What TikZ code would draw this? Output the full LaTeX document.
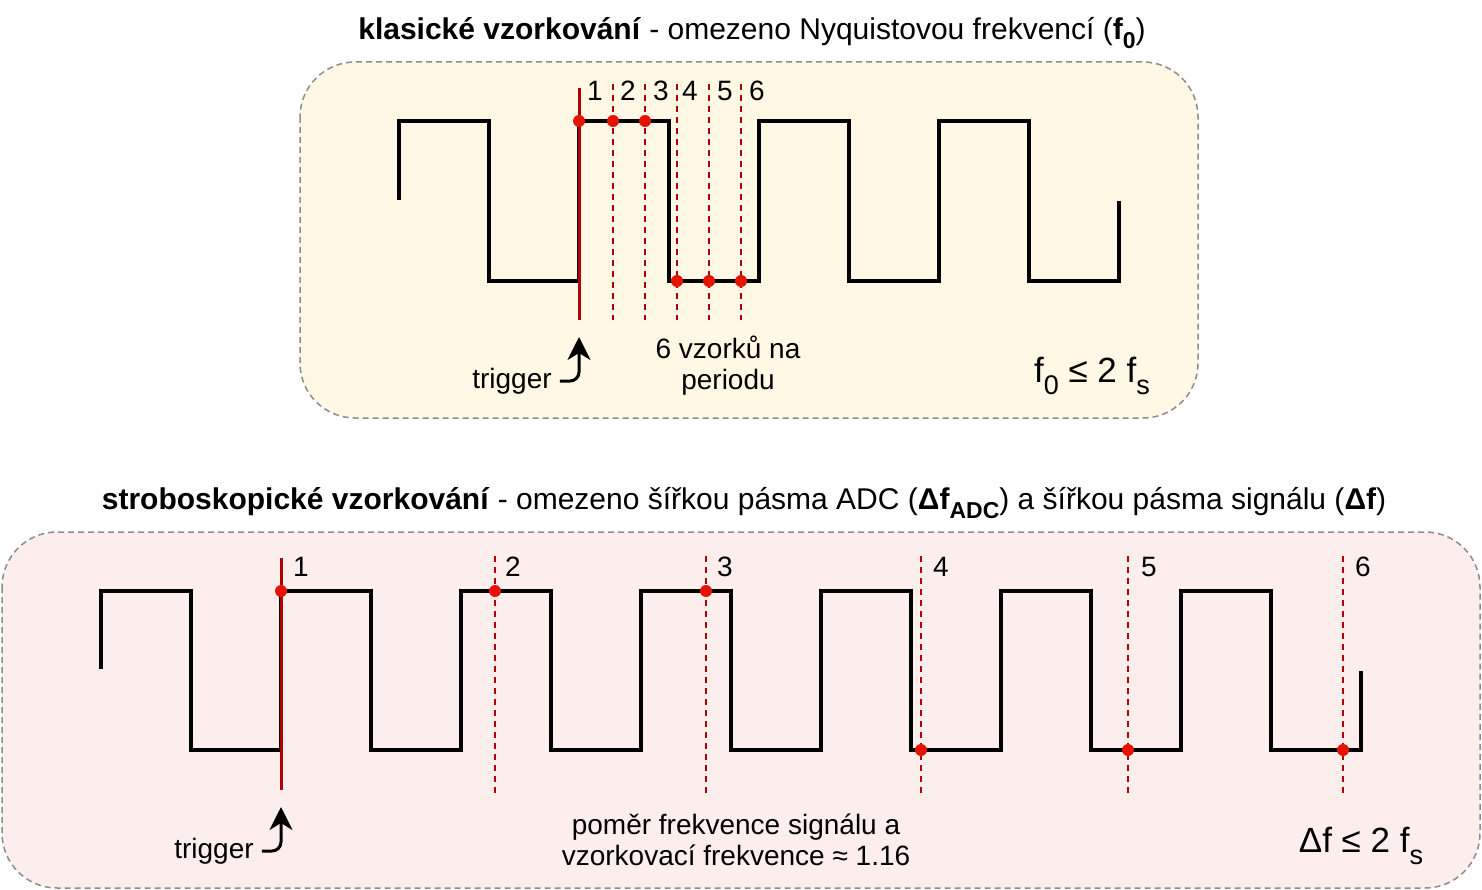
\documentclass[tikz,border=0pt]{standalone}
\usepackage{fontspec}
\setmainfont{Liberation Sans}
\usetikzlibrary{arrows.meta}
\definecolor{topfill}{HTML}{FFF8E5}
\definecolor{botfill}{HTML}{FDEEEE}
\definecolor{boxline}{HTML}{8C8C8C}
\definecolor{trigred}{HTML}{B20000}
\definecolor{dotred}{HTML}{E51400}
\newcommand{\mysub}[2]{\raisebox{-0.32em}{\fontsize{#1}{#1}\selectfont #2}}
\tikzset{
  panel/.style={draw=boxline, line width=1.5pt, dash pattern=on 6pt off 4pt, rounded corners=55pt},
  wave/.style={draw=black, line width=3.2pt, line join=miter},
  trigline/.style={draw=trigred, line width=3pt},
  samp/.style={draw=trigred, line width=1.5pt, dash pattern=on 6pt off 5pt},
  sdot/.style={circle, fill=dotred, inner sep=0pt, minimum size=12pt},
  lbl/.style={font=\fontsize{28}{31}\selectfont, inner sep=0pt, align=center},
  ttl/.style={font=\fontsize{30}{34}\selectfont, inner sep=0pt},
  big/.style={font=\fontsize{35}{40}\selectfont, inner sep=0pt},
  trigarrow/.style={draw=black, line width=3pt, rounded corners=9pt, -{Stealth[length=23pt,width=23pt,inset=7pt]}, shorten <=8pt}
}
\begin{document}
\begin{tikzpicture}[x=1pt,y=-1pt]
\useasboundingbox (0,0) rectangle (1482,890);
% panels
\path[panel, fill=topfill] (300,62) rectangle (1198,418);
\path[panel, fill=botfill] (2,532) rectangle (1480,888);
% titles
\node[ttl] (title1) at (752,33) {\textbf{klasické vzorkování} - omezeno Nyquistovou frekvencí (\textbf{f}\mysub{23}{\textbf{0}})};
\node[ttl] (title2) at (744,503) {\textbf{stroboskopické vzorkování} - omezeno šířkou pásma ADC (\textbf{Δf}\mysub{23}{\textbf{ADC}}) a šířkou pásma signálu (\textbf{Δf})};
% top waveform
\draw[wave] (399,200) -- (399,121) -- (489,121) -- (489,281) -- (579,281) -- (579,121) -- (669,121) -- (669,281) -- (759,281) -- (759,121) -- (849,121) -- (849,281) -- (939,281) -- (939,121) -- (1029,121) -- (1029,281) -- (1119,281) -- (1119,201);
\foreach \x in {613,645,677,709,741} \draw[samp] (\x,84) -- (\x,320);
\draw[trigline] (579,88) -- (579,320);
\foreach \x/\y/\n in {579/121/a1,613/121/a2,645/121/a3,677/281/a4,709/281/a5,741/281/a6}
  \node[sdot] (\n) at (\x,\y) {};
\foreach \x/\t/\n in {595/1/la1,628/2/la2,661/3/la3,690/4/la4,725/5/la5,757/6/la6}
  \node[lbl] (\n) at (\x,91) {\t};
\node[lbl] (trig1) at (512,381) {trigger};
\coordinate (tip1) at (579,337);
\draw[trigarrow] (trig1.east) -| (tip1);
\node[lbl] (per) at (728,366) {6 vzorků na\\periodu};
\node[big] (cond1) at (1092,376) {f\mysub{27}{0} ≤ 2 f\mysub{27}{s}};
% bottom waveform
\draw[wave] (101,669) -- (101,591) -- (191,591) -- (191,750) -- (281,750) -- (281,591) -- (371,591) -- (371,750) -- (461,750) -- (461,591) -- (551,591) -- (551,750) -- (641,750) -- (641,591) -- (731,591) -- (731,750) -- (821,750) -- (821,591) -- (911,591) -- (911,750) -- (1001,750) -- (1001,591) -- (1091,591) -- (1091,750) -- (1181,750) -- (1181,591) -- (1271,591) -- (1271,750) -- (1361,750) -- (1361,671);
\foreach \x in {495,706,921,1128,1343} \draw[samp] (\x,556) -- (\x,793);
\draw[trigline] (281,558) -- (281,790);
\foreach \x/\y/\n in {281/591/b1,495/591/b2,706/591/b3,921/750/b4,1128/750/b5,1343/750/b6}
  \node[sdot] (\n) at (\x,\y) {};
\foreach \x/\t/\n in {301/1/lb1,513/2/lb2,725/3/lb3,941/4/lb4,1149/5/lb5,1363/6/lb6}
  \node[lbl] (\n) at (\x,567) {\t};
\node[lbl] (trig2) at (214,851) {trigger};
\coordinate (tip2) at (281,807);
\draw[trigarrow] (trig2.east) -| (tip2);
\node[lbl] (ratio) at (736,840) {poměr frekvence signálu a\\vzorkovací frekvence ≈ 1.16};
\node[big] (cond2) at (1361,846) {Δf ≤ 2 f\mysub{27}{s}};
\end{tikzpicture}
\end{document}
